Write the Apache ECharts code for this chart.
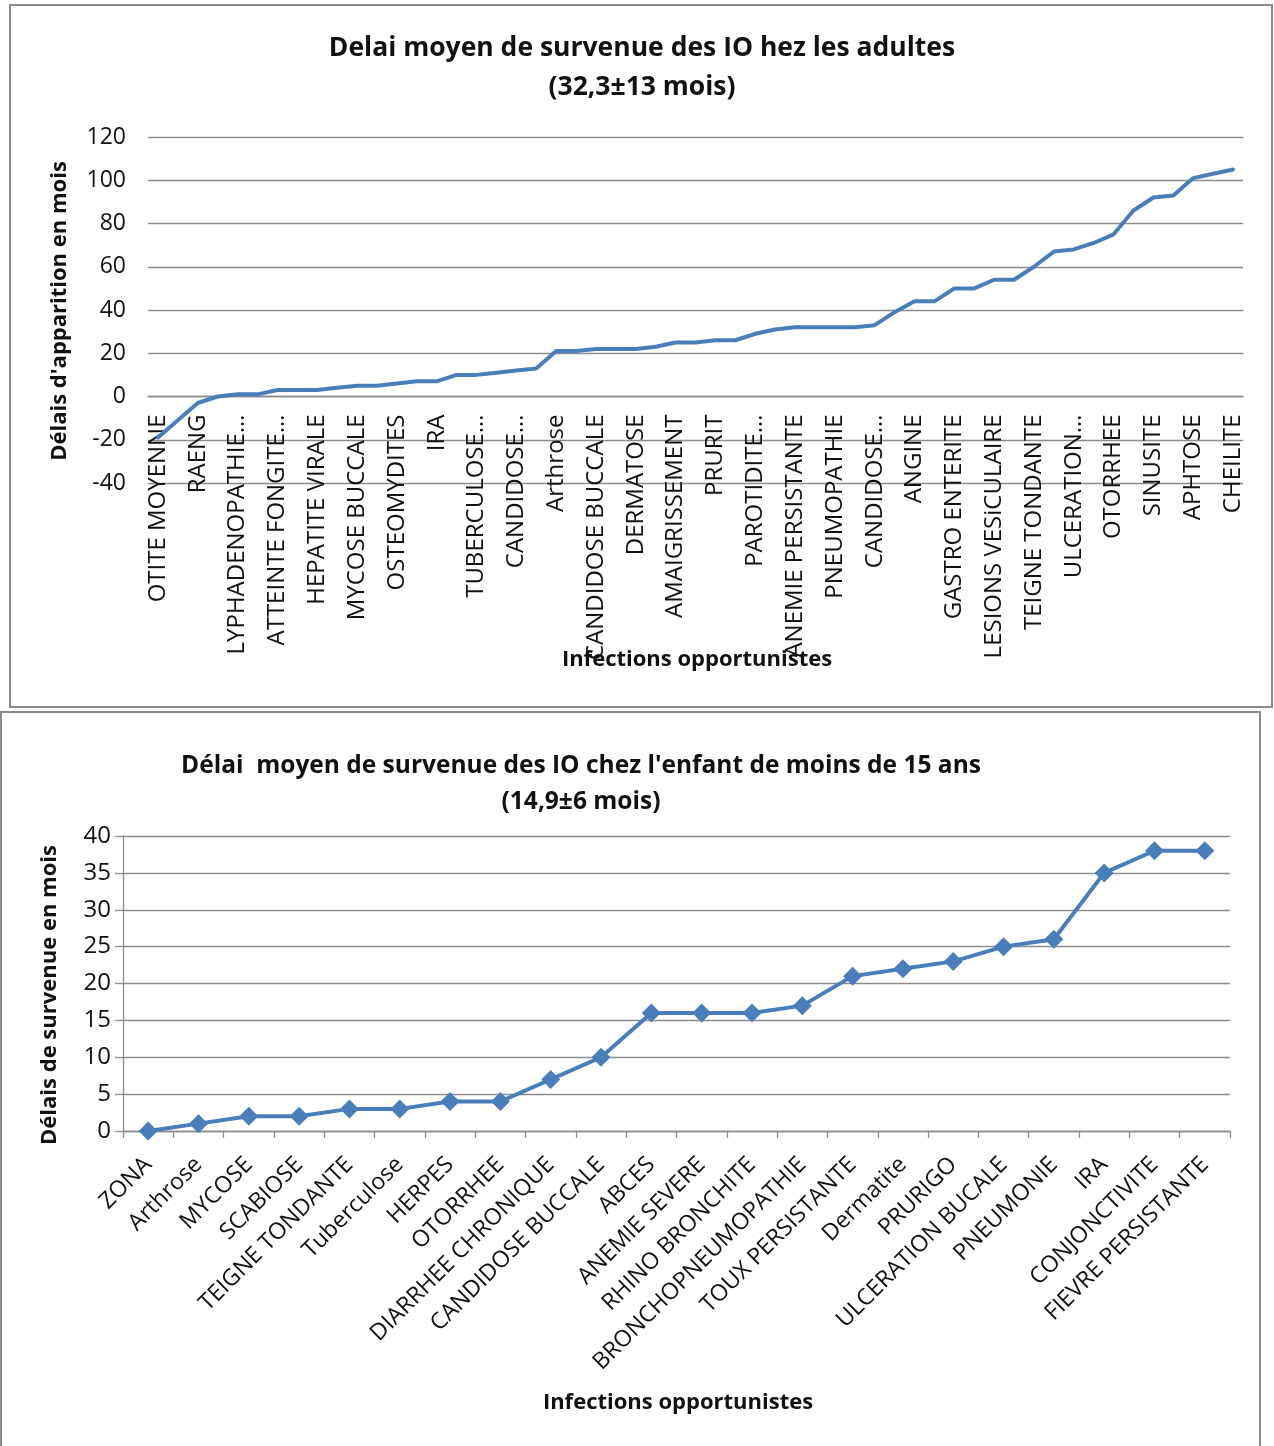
<!DOCTYPE html>
<html>
<head>
<meta charset="utf-8">
<script src="https://cdn.jsdelivr.net/npm/echarts@6/dist/echarts.min.js"></script>
<style>
  html, body { margin: 0; padding: 0; background: #fff; }
  #chart { width: 1274px; height: 1446px; }
</style>
</head>
<body>
<div id="chart"></div>
<script>
// Adults: mean onset delay of opportunistic infections (months), sorted ascending.
// Only every other category carries a printed name on the axis.
const adultCategories = [
  'OTITE MOYENNE', '', 'RAENG', '', 'LYPHADENOPATHIE…', '', 'ATTEINTE FONGITE…', '',
  'HEPATITE VIRALE', '', 'MYCOSE BUCCALE', '', 'OSTEOMYDITES', '', 'IRA', '',
  'TUBERCULOSE…', '', 'CANDIDOSE…', '', 'Arthrose', '', 'CANDIDOSE BUCCALE', '',
  'DERMATOSE', '', 'AMAIGRISSEMENT', '', 'PRURIT', '', 'PAROTIDITE…', '',
  'ANEMIE PERSISTANTE', '', 'PNEUMOPATHIE', '', 'CANDIDOSE…', '', 'ANGINE', '',
  'GASTRO ENTERITE', '', 'LESIONS VESiCULAIRE', '', 'TEIGNE TONDANTE', '', 'ULCERATION…', '',
  'OTORRHEE', '', 'SINUSITE', '', 'APHTOSE', '', 'CHEILITE'
];
const adultDelays = [
  -19, -11, -3, 0, 1, 1, 3, 3, 3, 4,
  5, 5, 6, 7, 7, 10, 10, 11, 12, 13,
  21, 21, 22, 22, 22, 23, 25, 25, 26, 26,
  29, 31, 32, 32, 32, 32, 33, 39, 44, 44,
  50, 50, 54, 54, 60, 67, 68, 71, 75, 86,
  92, 93, 101, 103, 105
];
const adultTicks = { min: -40, max: 120, interval: 20 };

// Children under 15: mean onset delay (months).
const childCategories = [
  'ZONA', 'Arthrose', 'MYCOSE', 'SCABIOSE', 'TEIGNE TONDANTE', 'Tuberculose',
  'HERPES', 'OTORRHEE', 'DIARRHEE CHRONIQUE', 'CANDIDOSE BUCCALE', 'ABCES',
  'ANEMIE SEVERE', 'RHINO BRONCHITE', 'BRONCHOPNEUMOPATHIE', 'TOUX PERSISTANTE',
  'Dermatite', 'PRURIGO', 'ULCERATION BUCALE', 'PNEUMONIE', 'IRA',
  'CONJONCTIVITE', 'FIEVRE PERSISTANTE'
];
const childDelays = [0, 1, 2, 2, 3, 3, 4, 4, 7, 10, 16, 16, 16, 17, 21, 22, 23, 25, 26, 35, 38, 38];
const childTicks = { min: 0, max: 40, interval: 5 };

const FONT = '"Open Sans", "Noto Sans", sans-serif';
const INK = '#111';
const GRID = '#8c8c8c';
const BLUE = '#4A7EBB';

// adult plot area; the category axis is lifted from the bottom edge up to the value 0
const adultGrid = { left: 148, top: 137, width: 1095, height: 346 };
const zeroLift = adultGrid.height * (0 - adultTicks.min) / (adultTicks.max - adultTicks.min);

const chart = echarts.init(document.getElementById('chart'), null, { renderer: 'canvas' });

chart.setOption({
  backgroundColor: '#fff',
  animation: false,
  textStyle: { fontFamily: FONT, color: INK },
  title: [
    {
      text: 'Delai moyen de survenue des IO hez les adultes\n(32,3±13 mois)',
      left: 642, top: 29, textAlign: 'center', padding: 0,
      textStyle: { fontFamily: FONT, fontSize: 26.5, fontWeight: 'bold', color: INK, lineHeight: 39 }
    },
    {
      text: 'Délai  moyen de survenue des IO chez l\'enfant de moins de 15 ans\n(14,9±6 mois)',
      left: 581, top: 748, textAlign: 'center', padding: 0,
      textStyle: { fontFamily: FONT, fontSize: 24.5, fontWeight: 'bold', color: INK, lineHeight: 36 }
    }
  ],
  grid: [
    Object.assign({ containLabel: false }, adultGrid),
    { left: 123, top: 836, width: 1107, height: 295, containLabel: false }
  ],
  xAxis: [
    {
      type: 'category', gridIndex: 0, data: adultCategories, boundaryGap: true,
      position: 'bottom', offset: -zeroLift,
      axisLine: { show: true, onZero: false, lineStyle: { color: GRID, width: 1.3 } },
      axisTick: { show: false },
      axisLabel: { interval: 1, rotate: 90, margin: 18, fontSize: 24, color: INK, fontFamily: FONT }
    },
    {
      type: 'category', gridIndex: 1, data: childCategories, boundaryGap: true,
      axisLine: { show: true, lineStyle: { color: GRID, width: 1.3 } },
      axisTick: { show: true, length: 7, inside: false, lineStyle: { color: GRID, width: 1.3 } },
      axisLabel: { interval: 0, rotate: 45, margin: 30, fontSize: 23, color: INK, fontFamily: FONT }
    }
  ],
  yAxis: [
    {
      type: 'value', gridIndex: 0,
      min: adultTicks.min, max: adultTicks.max, interval: adultTicks.interval,
      axisLine: { show: false }, axisTick: { show: false },
      axisLabel: { margin: 22, fontSize: 23, color: INK, fontFamily: FONT },
      splitLine: { show: true, lineStyle: { color: GRID, width: 1.3 } }
    },
    {
      type: 'value', gridIndex: 1,
      min: childTicks.min, max: childTicks.max, interval: childTicks.interval,
      axisLine: { show: true, lineStyle: { color: GRID, width: 1.3 } },
      axisTick: { show: true, length: 8, lineStyle: { color: GRID, width: 1.3 } },
      axisLabel: { margin: 12, fontSize: 24, color: INK, fontFamily: FONT },
      splitLine: { show: true, lineStyle: { color: GRID, width: 1.3 } }
    }
  ],
  series: [
    {
      type: 'line', xAxisIndex: 0, yAxisIndex: 0, data: adultDelays,
      showSymbol: false, symbol: 'none',
      lineStyle: { color: BLUE, width: 4, join: 'round', cap: 'round' }
    },
    {
      type: 'line', xAxisIndex: 1, yAxisIndex: 1, data: childDelays,
      symbol: 'diamond', symbolSize: 19,
      itemStyle: { color: BLUE },
      lineStyle: { color: BLUE, width: 4, join: 'round' }
    }
  ],
  graphic: [
    // panel frames
    { type: 'rect', shape: { x: 10, y: 5, width: 1262, height: 702 },
      style: { fill: null, stroke: '#8a8a8a', lineWidth: 2 }, z: -10 },
    { type: 'rect', shape: { x: 1, y: 712, width: 1259, height: 760 },
      style: { fill: null, stroke: '#8a8a8a', lineWidth: 2 }, z: -10 },
    // axis names
    { type: 'text', x: 60, y: 311, rotation: Math.PI / 2,
      style: { text: 'Délais d\'apparition en mois', fontFamily: FONT, fontSize: 22, fontWeight: 'bold',
               fill: INK, align: 'center', verticalAlign: 'middle' } },
    { type: 'text', x: 697, y: 660,
      style: { text: 'Infections opportunistes', fontFamily: FONT, fontSize: 22, fontWeight: 'bold',
               fill: INK, align: 'center', verticalAlign: 'middle' } },
    { type: 'text', x: 50, y: 995, rotation: Math.PI / 2,
      style: { text: 'Délais de survenue en mois', fontFamily: FONT, fontSize: 22, fontWeight: 'bold',
               fill: INK, align: 'center', verticalAlign: 'middle' } },
    { type: 'text', x: 678, y: 1403,
      style: { text: 'Infections opportunistes', fontFamily: FONT, fontSize: 22, fontWeight: 'bold',
               fill: INK, align: 'center', verticalAlign: 'middle' } }
  ]
});
</script>
</body>
</html>
